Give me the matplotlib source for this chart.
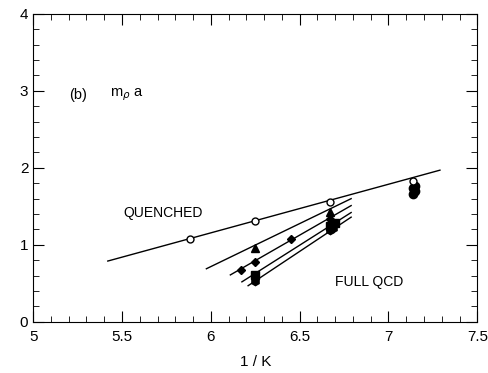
import matplotlib.pyplot as plt
import numpy as np
from matplotlib.ticker import MultipleLocator

plt.rcParams['font.family'] = ['Liberation Sans', 'DejaVu Sans']

# quenched (open circles)
q_x = [5.88, 6.25, 6.67, 7.14]
q_y = [1.07, 1.31, 1.56, 1.83]
q_line_x = [5.42, 7.29]
q_line_y = [0.79, 1.97]

# full QCD series
tri_x = [6.25, 6.67]
tri_y = [0.96, 1.43]
tri_line_x = [5.975, 6.79]
tri_line_y = [0.69, 1.60]

dia_x = [6.17, 6.25, 6.45, 6.67]
dia_y = [0.67, 0.78, 1.07, 1.34]
dia_line_x = [6.11, 6.79]
dia_line_y = [0.61, 1.51]

sq_x = [6.25, 6.67, 6.70]
sq_y = [0.61, 1.24, 1.28]
sq_line_x = [6.175, 6.79]
sq_line_y = [0.52, 1.42]

hex_x = [6.25, 6.67, 6.69]
hex_y = [0.53, 1.19, 1.22]
hex_line_x = [6.21, 6.79]
hex_line_y = [0.47, 1.36]

blob_x = [7.14, 7.15, 7.14, 7.15]
blob_y = [1.66, 1.70, 1.74, 1.77]

fig = plt.figure(figsize=(4.88, 3.73), dpi=100)
ax = fig.add_axes([0.068, 0.137, 0.91, 0.826])

lw = 1.0
ax.plot(q_line_x, q_line_y, color='black', linewidth=lw)
ax.plot(tri_line_x, tri_line_y, color='black', linewidth=lw)
ax.plot(dia_line_x, dia_line_y, color='black', linewidth=lw)
ax.plot(sq_line_x, sq_line_y, color='black', linewidth=lw)
ax.plot(hex_line_x, hex_line_y, color='black', linewidth=lw)

ax.plot(q_x, q_y, 'o', markersize=5, markerfacecolor='white', markeredgecolor='black', markeredgewidth=1.0, zorder=3)
ax.plot(tri_x, tri_y, '^', markersize=6, color='black', zorder=3)
ax.plot(dia_x, dia_y, 'D', markersize=4.5, color='black', zorder=3)
ax.plot(sq_x, sq_y, 's', markersize=6, color='black', zorder=3)
ax.plot(hex_x, hex_y, 'h', markersize=6, color='black', zorder=3)
ax.plot(blob_x, blob_y, 'o', markersize=6, color='black', zorder=2)

ax.set_xlim(5, 7.5)
ax.set_ylim(0, 4)
ax.xaxis.set_major_locator(MultipleLocator(0.5))
ax.xaxis.set_minor_locator(MultipleLocator(0.1))
ax.yaxis.set_major_locator(MultipleLocator(1))
ax.yaxis.set_minor_locator(MultipleLocator(0.2))
ax.set_xticks([5, 5.5, 6, 6.5, 7, 7.5])
ax.set_xticklabels(['5', '5.5', '6', '6.5', '7', '7.5'])
ax.tick_params(which='both', direction='in', top=True, right=True, labelsize=11)
ax.tick_params(which='major', length=8)
ax.tick_params(which='minor', length=4)
ax.tick_params(axis='x', pad=6)
ax.set_xlabel('1 / K', fontsize=11, labelpad=8)

ax.text(5.2, 2.95, '(b)', fontsize=10.5, va='center')
ax.text(5.43, 2.95, r'm$_\rho$ a', fontsize=10.5, va='center')
ax.text(5.51, 1.42, 'QUENCHED', fontsize=10, va='center')
ax.text(6.70, 0.52, 'FULL QCD', fontsize=10, va='center')

fig.savefig('out.png', dpi=100)
